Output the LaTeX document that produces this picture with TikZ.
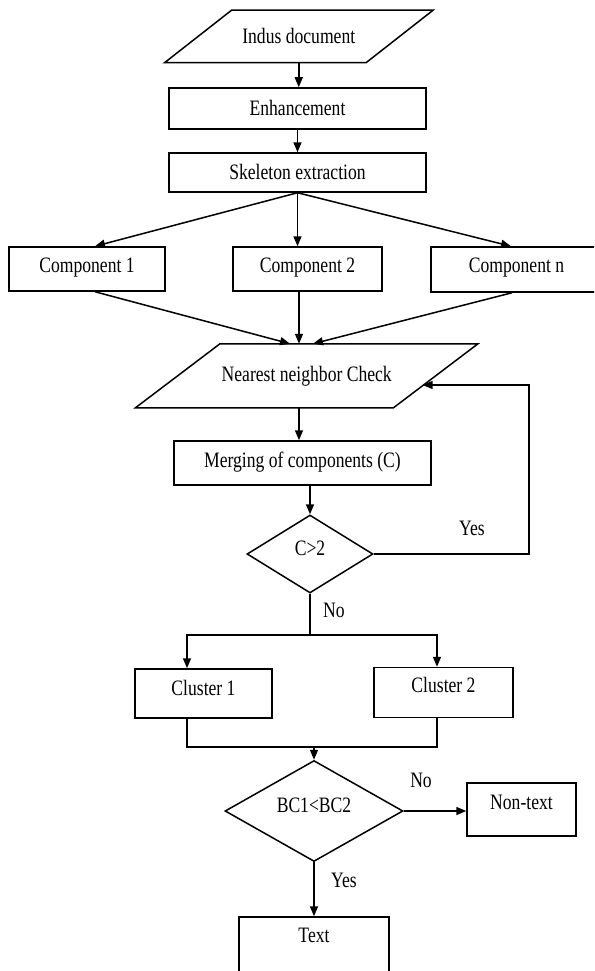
\documentclass[tikz,border=0pt]{standalone}
\usepackage{fontspec}
\setmainfont{Liberation Serif}[FakeStretch=0.8]
\usetikzlibrary{arrows.meta,shapes.geometric,calc}
\begin{document}
\begin{tikzpicture}[x=1pt,y=-1pt,
  line width=1.5pt,
  font=\fontsize{22}{25}\selectfont,
  tx/.style={text height=14.5pt, text depth=#1},
  tx/.default=0pt,
  box/.style={draw, rectangle, inner sep=0pt},
  dia/.style={draw, diamond, inner sep=0pt},
  lbl/.style={inner sep=0pt, text height=14.5pt, text depth=0pt},
  arr/.style={-{Triangle[length=10pt,width=8pt]}}
]
\clip (0,0) rectangle (594,971);
\fill[white] (0,0) rectangle (594,971);

% parallelogram 1
\node[tx, inner sep=0pt, minimum width=200pt, minimum height=51pt] (indus) at (298.75,36.5) {Indus document};
\draw ([xshift=33.5pt]indus.north west) -- ([xshift=33.5pt]indus.north east)
   -- ([xshift=-33.5pt]indus.south east) -- ([xshift=-33.5pt]indus.south west) -- cycle;

\node[box, tx, minimum width=257pt, minimum height=41pt] (enh) at (297.5,108.5) {Enhancement};
\node[box, tx, minimum width=257pt, minimum height=39pt] (skel) at (297.5,172.5) {Skeleton extraction};

\node[box, tx=8pt, minimum width=156pt, minimum height=44pt] (c1) at (87,269) {Component 1};
\node[box, tx=8pt, minimum width=149pt, minimum height=44pt] (c2) at (307.5,269) {Component 2};
\node[box, tx=8pt, minimum width=171pt, minimum height=45pt] (cn) at (516.5,269.5) {Component n};

% parallelogram 2
\node[tx=4pt, inner sep=0pt, minimum width=256.5pt, minimum height=62.5pt] (near) at (306.75,375.75) {Nearest neighbor Check};
\draw ([xshift=42.25pt]near.north west) -- ([xshift=42.25pt]near.north east)
   -- ([xshift=-42.25pt]near.south east) -- ([xshift=-42.25pt]near.south west) -- cycle;
\coordinate (nearR) at (422.6,385);

\node[box, tx=6pt, minimum width=257pt, minimum height=44pt] (merg) at (302.5,463) {Merging of components (C)};
\node[dia, tx=12pt, minimum width=126pt, minimum height=78pt] (dec1) at (310,554) {C>2};
\coordinate (loopc) at (529,385);
\coordinate (splitc) at (310,635);

\node[box, tx=10pt, minimum width=137pt, minimum height=49pt] (cl1) at (203.5,693.5) {Cluster 1};
\node[box, tx=14pt, minimum width=139pt, minimum height=50pt] (cl2) at (443.5,692.5) {Cluster 2};
\coordinate (mergec) at (314,747);

\node[dia, tx=12pt, minimum width=178pt, minimum height=82pt] (dec2) at (314,811) {BC1<BC2};
\node[box, tx=14pt, minimum width=109pt, minimum height=53pt] (non) at (521.5,809.5) {Non-text};
\node[box, tx=37pt, minimum width=150pt, minimum height=73pt] (txt) at (314,953.5) {Text};

% labels
\node[lbl] (yes1) at (472,528) {Yes};
\node[lbl] (no1) at (334,610) {No};
\node[lbl] (no2) at (421,780) {No};
\node[lbl] (yes2) at (344,880) {Yes};

% connectors
\draw[arr] (indus.south) -- (indus.south |- enh.north);
\draw[arr] (enh.south) -- (skel.north);
\draw[arr] (skel.south) -- ([xshift=8pt]c1.north);
\draw[arr] (skel.south) -- (skel.south |- c2.north);
\draw[arr] (skel.south) -- ([xshift=-5.5pt]cn.north);
\draw[arr] ([xshift=8pt]c1.south) -- ([xshift=-16.75pt]near.north);
\draw[arr] ([xshift=-8.5pt]c2.south) -- ([xshift=-8.5pt]c2.south |- near.north);
\draw[arr] ([xshift=-4.5pt]cn.south) -- ([xshift=6.25pt]near.north);
\draw[arr] ([xshift=-7.75pt]near.south) -- ([xshift=-7.75pt]near.south |- merg.north);
\draw[arr] (merg.south -| dec1.north) -- (dec1.north);
\draw[arr] (dec1.east) -| (loopc) -- (nearR);
\draw (dec1.south) -- (splitc);
\draw[arr] (splitc) -| ([xshift=-16.5pt]cl1.north);
\draw[arr] (splitc) -| ([xshift=-6.5pt]cl2.north);
\draw ([xshift=-16.5pt]cl1.south) |- (mergec) -| ([xshift=-6.5pt]cl2.south);
\draw[arr] (mergec) -- (dec2.north);
\draw[arr] (dec2.east) -- (dec2.east -| non.west);
\draw[arr] (dec2.south) -- (txt.north);
\end{tikzpicture}
\end{document}
